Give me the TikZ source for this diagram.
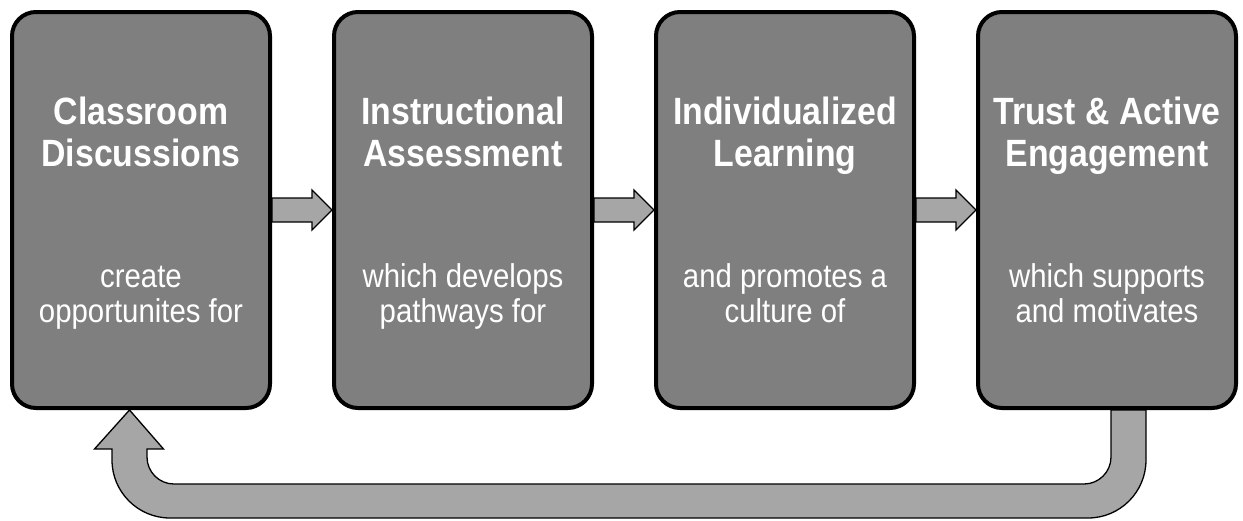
\documentclass[tikz,border=0pt]{standalone}
\usepackage{fontspec}
\setmainfont[FakeStretch=0.89]{Liberation Sans}
\usepackage{xcolor}
\usetikzlibrary{positioning, calc}

\definecolor{boxgray}{RGB}{127,127,127}
\definecolor{arrgray}{RGB}{166,166,166}

\tikzset{
    stagebox/.style={draw=black, line width=4pt, fill=boxgray, rounded corners=24pt,
        minimum width=258pt, minimum height=396pt, inner sep=0pt},
    headtext/.style={anchor=base, align=center, text=white, inner sep=0pt,
        font=\fontsize{38}{42}\selectfont\bfseries},
    subtext/.style={anchor=base, align=center, text=white, inner sep=0pt,
        font=\fontsize{33}{35}\selectfont},
    stepar/.style={draw=black, line width=1.3pt, fill=arrgray, line join=miter},
    loopar/.style={draw=black, line width=1.3pt, fill=arrgray, line join=miter}
}

\begin{document}
\begin{tikzpicture}[x=1pt, y=-1pt]
    \useasboundingbox (0,0) rectangle (1243,520);

    \def\shaft{12}
    \def\head{20}
    \def\tip{20}

    \node[stagebox] (b1) at (141,210) {};
    \node[stagebox] (b2) at (463,210) {};
    \node[stagebox] (b3) at (785,210) {};
    \node[stagebox] (b4) at (1107,210) {};

    \node[headtext] (h1) at (141,166) {Classroom\\Discussions};
    \node[headtext] (h2) at (463,166) {Instructional\\Assessment};
    \node[headtext] (h3) at (785,166) {Individualized\\Learning};
    \node[headtext] (h4) at (1107,166) {Trust \& Active\\Engagement};

    \node[subtext] (s1) at (141,322) {create\\opportunites for};
    \node[subtext] (s2) at (463,322) {which develops\\pathways for};
    \node[subtext] (s3) at (785,322) {and promotes a\\culture of};
    \node[subtext] (s4) at (1107,322) {which supports\\and motivates};

    % block arrows between the stages
    \draw[stepar] ($(b1.east)+(0,-\shaft)$) -- ($(b2.west)+(-\tip,-\shaft)$) -- ($(b2.west)+(-\tip,-\head)$)
        -- (b2.west) -- ($(b2.west)+(-\tip,\head)$) -- ($(b2.west)+(-\tip,\shaft)$) -- ($(b1.east)+(0,\shaft)$) -- cycle;
    \draw[stepar] ($(b2.east)+(0,-\shaft)$) -- ($(b3.west)+(-\tip,-\shaft)$) -- ($(b3.west)+(-\tip,-\head)$)
        -- (b3.west) -- ($(b3.west)+(-\tip,\head)$) -- ($(b3.west)+(-\tip,\shaft)$) -- ($(b2.east)+(0,\shaft)$) -- cycle;
    \draw[stepar] ($(b3.east)+(0,-\shaft)$) -- ($(b4.west)+(-\tip,-\shaft)$) -- ($(b4.west)+(-\tip,-\head)$)
        -- (b4.west) -- ($(b4.west)+(-\tip,\head)$) -- ($(b4.west)+(-\tip,\shaft)$) -- ($(b3.east)+(0,\shaft)$) -- cycle;

    % return arrow from the last stage back to the first
    \coordinate (loopR) at ([xshift=21.5pt]b4.south);
    \coordinate (loopL) at ([xshift=-11.5pt]b1.south);
    \draw[loopar] ($(loopR)+(-17.5,0)$) [rounded corners=27pt] -- ($(loopR)+(-17.5,74)$)
        -- ($(loopL)+(17.5,74)$) [sharp corners] -- ($(loopL)+(17.5,39)$) -- ($(loopL)+(34,39)$)
        -- (loopL) -- ($(loopL)+(-35,39)$) -- ($(loopL)+(-17.5,39)$) [rounded corners=58pt] -- ($(loopL)+(-17.5,108)$)
        -- ($(loopR)+(17.5,108)$) [sharp corners] -- ($(loopR)+(17.5,0)$) -- cycle;
\end{tikzpicture}
\end{document}
